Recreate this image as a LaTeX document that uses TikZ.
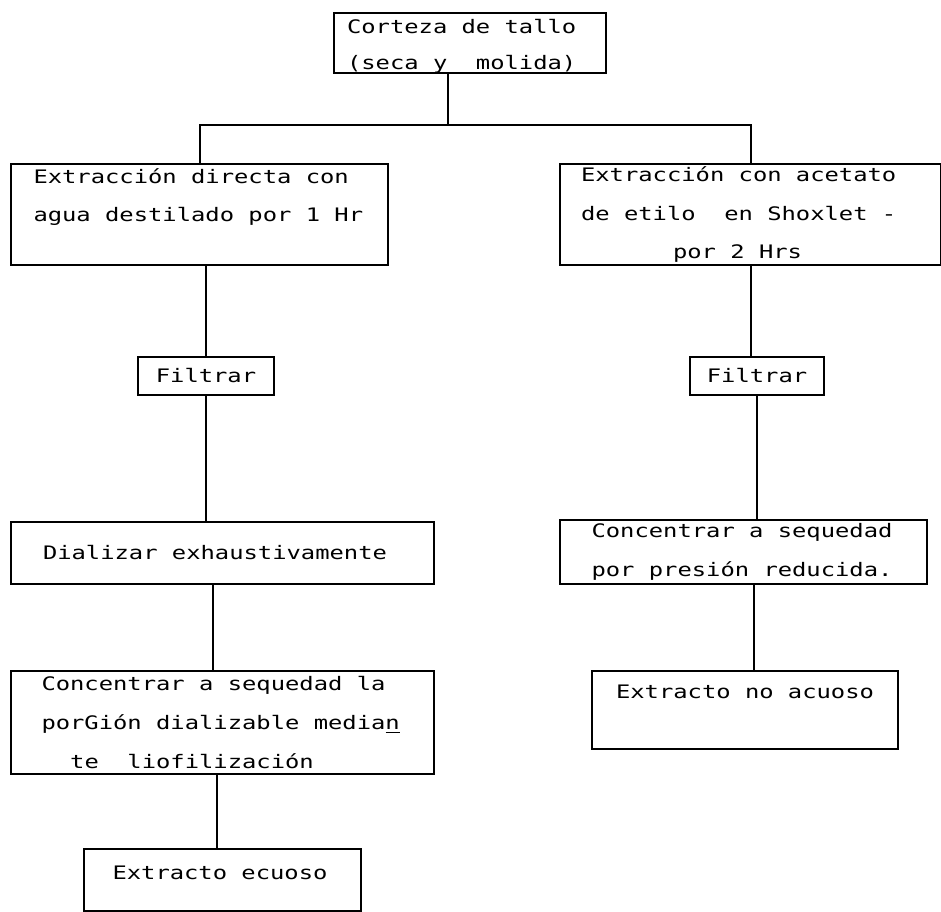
\documentclass[tikz,border=0pt]{standalone}
\usepackage{fontspec}
\newfontfamily\dotfont[FakeStretch=1.28]{DejaVu Sans Mono}
\usepackage{tikz}
\usetikzlibrary{calc}
\tikzset{
  caja/.style={draw,line width=1pt,anchor=north west,inner sep=0pt,align=flush left,
    font={\dotfont\fontsize{9.3}{19.3}\selectfont}},
  enlace/.style={line width=1pt}
}

\begin{document}
\begin{tikzpicture}[x=0.5pt,y=-0.5pt]
  \useasboundingbox (0,0) rectangle (941,911);
  \node[caja,minimum width=136pt,minimum height=30pt,text width=123pt,text height=10pt] (tallo) at (333,12)
    {Corteza de tallo\\[-1.3pt](seca y~~molida)};
  \node[caja,minimum width=188.5pt,minimum height=50.5pt,text width=166pt] (ext1) at (10,163)
    {Extracción directa con\\agua destilado por 1 Hr\\\mbox{}};
  \node[caja,minimum width=190.5pt,minimum height=50.5pt,text width=169.5pt] (ext2) at (559,163)
    {Extracción con acetato\\de etilo~~en Shoxlet -\\\hspace*{46pt}por 2 Hrs};
  \node[caja,minimum width=68pt,minimum height=19pt] (fil1) at (137,356) {Filtrar};
  \node[caja,minimum width=67pt,minimum height=19pt] (fil2) at (689,356) {Filtrar};
  \node[caja,minimum width=211.5pt,minimum height=31pt,text width=179.5pt] (dia) at (10,521)
    {Dializar exhaustivamente};
  \node[caja,minimum width=211.5pt,minimum height=51.5pt,text width=181pt] (con1) at (10,670)
    {Concentrar a sequedad la\\porGión dializable media\underline{n}\\\phantom{xx}te~~liofilización};
  \node[caja,minimum width=183.5pt,minimum height=32pt,text width=152pt] (con2) at (559,519)
    {Concentrar a sequedad\\por presión reducida.};
  \node[caja,minimum width=138.5pt,minimum height=31pt,text width=110pt,text depth=7pt] (acu) at (83,848)
    {Extracto ecuoso};
  \node[caja,minimum width=153pt,minimum height=39pt,text depth=18pt] (noac) at (591,670)
    {Extracto no acuoso};

  \coordinate (split) at (448,125);
  \draw[enlace] (tallo.south -| split) -- (split);
  \draw[enlace] (ext1.north) |- (split) -| (ext2.north);
  \draw[enlace] (fil1.north |- ext1.south) -- (fil1.north);
  \draw[enlace] (fil1.south) -- (fil1.south |- dia.north);
  \draw[enlace] ($(dia.south)+(-10,0)$) -- ($(dia.south |- con1.north)+(-10,0)$);
  \draw[enlace] ($(con1.south -| acu.north)+(-6,0)$) -- ($(acu.north)+(-6,0)$);
  \draw[enlace] (ext2.south) -- (ext2.south |- fil2.north);
  \draw[enlace] (fil2.south) -- (fil2.south |- con2.north);
  \draw[enlace] ($(con2.south)+(10,0)$) -- ($(con2.south |- noac.north)+(10,0)$);
\end{tikzpicture}
\end{document}
